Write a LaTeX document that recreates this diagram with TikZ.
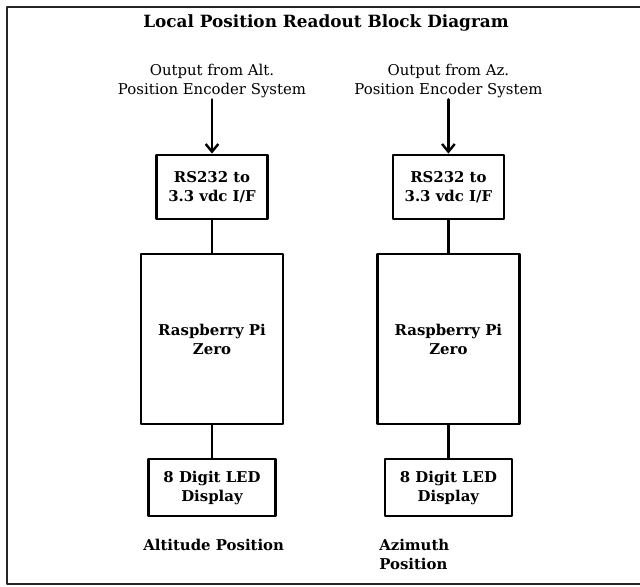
\documentclass[tikz,border=0pt]{standalone}
\usepackage{fontspec}
\setmainfont{DejaVu Serif}
\usetikzlibrary{arrows.meta,positioning}

\begin{document}
\begin{tikzpicture}[line cap=round, line join=round,
    blockbox/.style={draw, line width=2pt, inner sep=0pt, align=center,
        font=\bfseries\fontsize{10.6}{13.5}\selectfont},
    infotext/.style={align=center, inner sep=1pt, font=\fontsize{10.6}{13.5}\selectfont},
    sidelabel/.style={anchor=west, align=left, inner sep=0pt,
        font=\bfseries\fontsize{10.6}{13.5}\selectfont},
    wire/.style={line width=2pt}]
        \useasboundingbox (0,0) rectangle (16,14.65);
        % outer frame (right side runs off the page)
        \draw[black!85, line width=1.6pt] (16.6,14.475) -- (0.175,14.475) -- (0.175,0.05) -- (16.6,0.05);
        \node[font=\bfseries\fontsize{12}{14}\selectfont] (title) at (8.15,14.075) {Local Position Readout Block Diagram};
        % altitude chain
        \node[infotext] (inA) at (5.3,12.625) {Output from Alt.\\Position Encoder System};
        \node[blockbox, minimum width=2.775cm, minimum height=1.6cm] (rsA) at (5.3,9.975) {RS232 to\\3.3 vdc I/F};
        \node[blockbox, minimum width=3.55cm, minimum height=4.25cm] (piA) at (5.3,6.175) {Raspberry Pi\\Zero};
        \node[blockbox, minimum width=3.175cm, minimum height=1.425cm] (ledA) at (5.3,2.4625) {8 Digit LED\\Display};
        \node[sidelabel] (labA) at (3.575,1.025) {Altitude Position};
        % azimuth chain
        \node[infotext] (inB) at (11.21,12.625) {Output from Az.\\Position Encoder System};
        \node[blockbox, minimum width=2.775cm, minimum height=1.6cm] (rsB) at (11.21,9.975) {RS232 to\\3.3 vdc I/F};
        \node[blockbox, minimum width=3.55cm, minimum height=4.25cm] (piB) at (11.21,6.175) {Raspberry Pi\\Zero};
        \node[blockbox, minimum width=3.175cm, minimum height=1.425cm] (ledB) at (11.21,2.4625) {8 Digit LED\\Display};
        \node[sidelabel] (labB) at (9.475,0.8) {Azimuth\\Position};
        % connections
        \draw[wire, -{Straight Barb[length=5.5pt,width=9pt,line width=1.7pt]}] (inA) -- (rsA);
        \draw[wire] (rsA) -- (piA);
        \draw[wire] (piA) -- (ledA);
        \draw[wire, -{Straight Barb[length=5.5pt,width=9pt,line width=1.7pt]}] (inB) -- (rsB);
        \draw[wire] (rsB) -- (piB);
        \draw[wire] (piB) -- (ledB);
    \end{tikzpicture}
\end{document}
